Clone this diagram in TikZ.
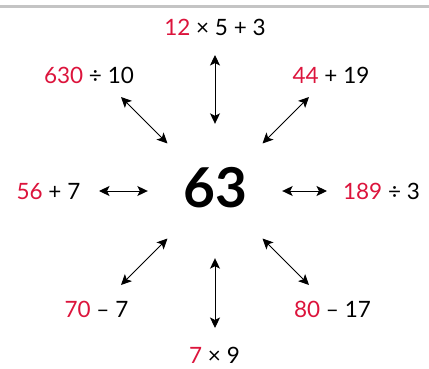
\documentclass[tikz,border=0pt]{standalone}
\usepackage{fontspec}
\setmainfont{Lato}
\usetikzlibrary{arrows.meta}
\definecolor{numred}{HTML}{DC143C}
\definecolor{rulegray}{HTML}{C4C4C4}
\newcommand{\hubradius}{67pt}
\newcommand{\rd}[1]{\textcolor{numred}{#1}}
\tikzset{sumlbl/.style={anchor=base, inner sep=0pt, font=\fontsize{22.5}{26}\selectfont}}
\tikzset{dblarrow/.style={<->, >={Stealth[length=10.5pt,width=10pt,inset=2.5pt]}, line width=1pt}}

\begin{document}
\begin{tikzpicture}[x=1pt,y=-1pt]
\useasboundingbox (0,0) rectangle (429,368);
\draw[rulegray, line width=3.5pt] (0,6.25) -- (429,6.25);

\node[circle, inner sep=0pt, minimum size=2*\hubradius, text depth=7pt, font=\fontsize{55}{60}\selectfont\bfseries] (hub) at (215,191) {63};

\node[sumlbl] (n) at (215,35.5) {\rd{12} × 5 + 3};
\node[sumlbl] (nw) at (89,83) {\rd{630} ÷ 10};
\node[sumlbl] (ne) at (331,83) {\rd{44} + 19};
\node[sumlbl] (w) at (48.5,199.5) {\rd{56} + 7};
\node[sumlbl] (e) at (381.5,199.5) {\rd{189} ÷ 3};
\node[sumlbl] (sw) at (96.5,317.5) {\rd{70} – 7};
\node[sumlbl] (se) at (332.5,317.5) {\rd{80} – 17};
\node[sumlbl] (s) at (214.5,363) {\rd{7} × 9};

% outer arrow ends
\coordinate (an) at (215,55);
\coordinate (anw) at (121,97);
\coordinate (ane) at (309,97);
\coordinate (aw) at (99,191);
\coordinate (ae) at (327,191);
\coordinate (asw) at (121,285);
\coordinate (ase) at (309,285);
\coordinate (as) at (215,328);

\draw[dblarrow] (an) -- (hub);
\draw[dblarrow] (anw) -- (hub);
\draw[dblarrow] (ane) -- (hub);
\draw[dblarrow] (aw) -- (hub);
\draw[dblarrow] (ae) -- (hub);
\draw[dblarrow] (asw) -- (hub);
\draw[dblarrow] (ase) -- (hub);
\draw[dblarrow] (as) -- (hub);

\end{tikzpicture}
\end{document}
